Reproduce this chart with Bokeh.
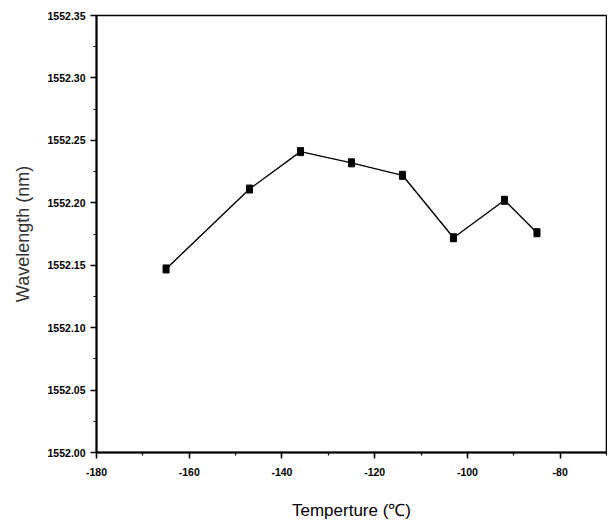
from bokeh.plotting import figure
from bokeh.models import FixedTicker, PrintfTickFormatter, Range1d, ColumnDataSource
from bokeh.embed import file_html
from bokeh.resources import INLINE

# Data
temperature = [-165, -147, -136, -125, -114, -103, -92, -85]
wavelength = [1552.147, 1552.211, 1552.241, 1552.232, 1552.222, 1552.172, 1552.202, 1552.176]

x_ticks = [-180, -160, -140, -120, -100, -80]
x_minor = [-180, -170, -160, -150, -140, -130, -120, -110, -100, -90, -80, -70]
y_ticks = [1552.00, 1552.05, 1552.10, 1552.15, 1552.20, 1552.25, 1552.30, 1552.35]
y_minor = [1552.00 + 0.025 * i for i in range(15)]

src = ColumnDataSource(dict(t=temperature, w=wavelength))

p = figure(width=607, height=523, output_backend="svg", toolbar_location=None,
           x_range=Range1d(-180, -70), y_range=Range1d(1552.00, 1552.35),
           min_border_left=96, min_border_right=1, min_border_top=15, min_border_bottom=71)
p.background_fill_color = "white"
p.border_fill_color = "white"
p.xgrid.visible = False
p.ygrid.visible = False
p.outline_line_color = "black"
p.outline_line_width = 1.5
p.outline_line_alpha = 1.0

p.line("t", "w", source=src, line_color="black", line_width=1.4)
p.rect("t", "w", width=6, height=8, width_units="screen", height_units="screen",
       source=src, fill_color="black", line_color="black")

for ax in (p.xaxis[0], p.yaxis[0]):
    ax.axis_line_width = 2
    ax.axis_line_color = "black"
    ax.major_tick_line_color = "black"
    ax.major_tick_line_width = 1.5
    ax.minor_tick_line_color = "black"
    ax.minor_tick_line_width = 1.2
    ax.major_tick_out = 6
    ax.major_tick_in = 0
    ax.minor_tick_out = 3
    ax.minor_tick_in = 0
    ax.major_label_text_font = "Liberation Sans"
    ax.major_label_text_font_size = "10.5px"
    ax.major_label_text_font_style = "bold"
    ax.major_label_text_color = "black"

p.xaxis.ticker = FixedTicker(ticks=x_ticks, minor_ticks=x_minor)
p.yaxis.ticker = FixedTicker(ticks=y_ticks, minor_ticks=y_minor)
p.xaxis.formatter = PrintfTickFormatter(format="%d")
p.yaxis.formatter = PrintfTickFormatter(format="%.2f")
p.xaxis.major_label_standoff = 9
p.yaxis.major_label_standoff = 5

p.xaxis.axis_label = "Temperture (\u2103)"
p.xaxis.axis_label_text_font = "Liberation Sans"
p.xaxis.axis_label_text_font_size = "17px"
p.xaxis.axis_label_text_font_style = "normal"
p.xaxis.axis_label_text_color = "black"
p.xaxis.axis_label_standoff = 22

p.yaxis.axis_label = "Wavelength (nm)"
p.yaxis.axis_label_text_font = "Liberation Sans"
p.yaxis.axis_label_text_font_size = "18px"
p.yaxis.axis_label_text_font_style = "normal"
p.yaxis.axis_label_text_color = "#333333"
p.yaxis.axis_label_standoff = 12

open("out.html", "w").write(file_html(p, INLINE))
